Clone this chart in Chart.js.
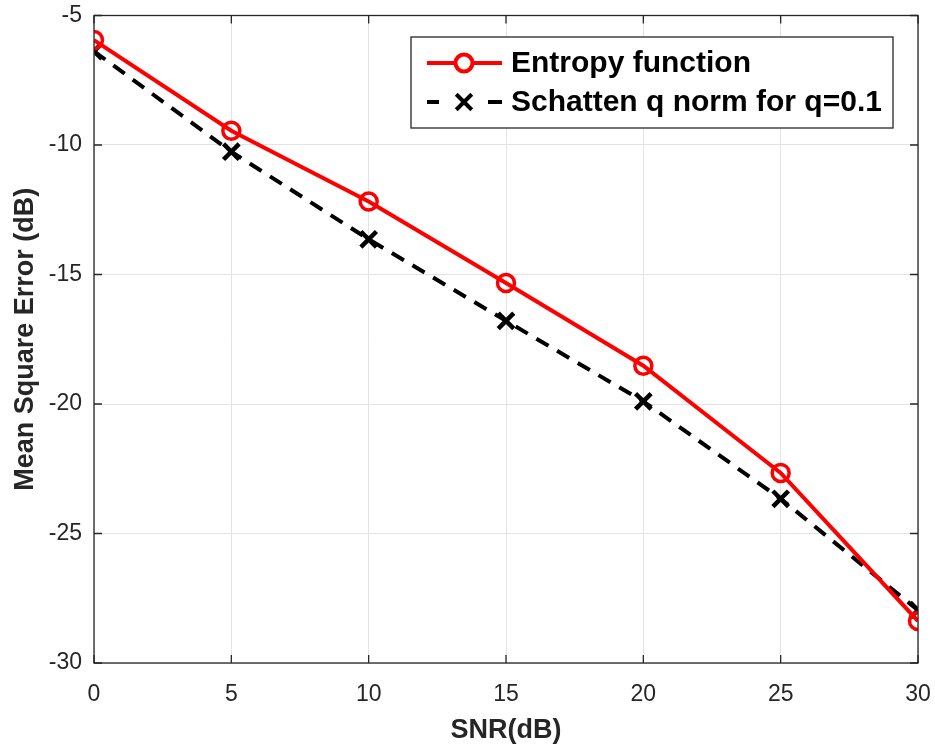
<!DOCTYPE html>
<html>
<head>
<meta charset="utf-8">
<script src="https://cdn.jsdelivr.net/npm/chart.js@4"></script>
<style>
  html, body { margin: 0; padding: 0; background: #fff; }
  #wrap { width: 935px; height: 749px; }
</style>
</head>
<body>
<div id="wrap"><canvas id="myChart" width="935" height="749"></canvas></div>
<script>
// SNR values (x axis)
const snr = [0, 5, 10, 15, 20, 25, 30];
// MSE in dB
const entropyMse = [-5.95, -9.45, -12.18, -15.33, -18.52, -22.66, -28.38];
const schattenMse = [-6.38, -10.26, -13.64, -16.79, -19.9, -23.66, -27.96];
const xTicks = [0, 5, 10, 15, 20, 25, 30];
const yTicks = [-5, -10, -15, -20, -25, -30];
const seriesLabels = ['Entropy function', 'Schatten q norm for q=0.1'];

const axisColor = '#262626';
const gridColor = '#e3e3e3';
const fontFam = '"Liberation Sans", Arial, sans-serif';

// MATLAB style box + inside tick marks
const boxPlugin = {
  id: 'box',
  afterDraw(chart) {
    const ctx = chart.ctx;
    const a = chart.chartArea;
    const xs = chart.scales.x, ys = chart.scales.y;
    ctx.save();
    ctx.strokeStyle = axisColor;
    ctx.lineWidth = 1.3;
    ctx.strokeRect(a.left, a.top, a.right - a.left, a.bottom - a.top);
    ctx.beginPath();
    xTicks.forEach(v => {
      const px = xs.getPixelForValue(v);
      ctx.moveTo(px, a.bottom); ctx.lineTo(px, a.bottom - 8);
      ctx.moveTo(px, a.top); ctx.lineTo(px, a.top + 8);
    });
    yTicks.forEach(v => {
      const py = ys.getPixelForValue(v);
      ctx.moveTo(a.left, py); ctx.lineTo(a.left + 8, py);
      ctx.moveTo(a.right, py); ctx.lineTo(a.right - 8, py);
    });
    ctx.stroke();
    ctx.restore();
  }
};

// legend drawn inside plot, top right
const legendPlugin = {
  id: 'boxLegend',
  afterDraw(chart) {
    const ctx = chart.ctx;
    const bx = 411, by = 37, bw = 482, bh = 91;
    ctx.save();
    ctx.fillStyle = '#fff';
    ctx.fillRect(bx, by, bw, bh);
    ctx.strokeStyle = axisColor;
    ctx.lineWidth = 1.3;
    ctx.strokeRect(bx, by, bw, bh);
    const rows = [63, 102];
    chart.data.datasets.forEach((ds, i) => {
      const y = rows[i];
      ctx.strokeStyle = ds.borderColor;
      ctx.lineWidth = ds.borderWidth;
      ctx.beginPath();
      if (ds.borderDash) {
        // two short dashes either side of the marker
        ctx.moveTo(427, y); ctx.lineTo(439, y);
        ctx.moveTo(488, y); ctx.lineTo(502, y);
      } else {
        ctx.moveTo(427, y); ctx.lineTo(502, y);
      }
      ctx.stroke();
      Chart.helpers.drawPoint(ctx, {
        pointStyle: ds.pointStyle,
        radius: ds.pointRadius,
        borderWidth: ds.pointBorderWidth
      }, 464, y);
      ctx.fillStyle = '#000';
      ctx.font = 'bold 30px ' + fontFam;
      ctx.textBaseline = 'middle';
      ctx.fillText(ds.label, 511, y + 1);
    });
    ctx.restore();
  }
};

const ctx = document.getElementById('myChart').getContext('2d');
const myChart = new Chart(ctx, {
  type: 'line',
  data: {
    datasets: [
      {
        label: seriesLabels[0],
        data: snr.map((x, i) => ({x: x, y: entropyMse[i]})),
        borderColor: '#ff0000',
        borderWidth: 4,
        pointStyle: 'circle',
        pointRadius: 8.5,
        pointBorderWidth: 3.5,
        pointBorderColor: '#ff0000',
        pointBackgroundColor: 'rgba(0,0,0,0)',
        tension: 0
      },
      {
        label: seriesLabels[1],
        data: snr.map((x, i) => ({x: x, y: schattenMse[i]})),
        borderColor: '#000000',
        borderWidth: 4,
        borderDash: [14, 10],
        pointStyle: 'crossRot',
        pointRadius: 11,
        pointBorderWidth: 4.5,
        pointBorderColor: '#000000',
        tension: 0
      }
    ]
  },
  options: {
    responsive: false,
    animation: false,
    layout: { padding: { left: 0, right: 17, top: 6, bottom: 0 } },
    plugins: { legend: { display: false }, tooltip: { enabled: false } },
    scales: {
      x: {
        type: 'linear',
        min: 0, max: 30,
        afterBuildTicks(scale) { scale.ticks = xTicks.map(v => ({value: v})); },
        afterFit(scale) { scale.height = 86; scale.paddingLeft = 0; scale.paddingRight = 0; },
        grid: { color: gridColor, lineWidth: 1, drawTicks: false },
        border: { display: false },
        ticks: {
          color: axisColor,
          padding: 18,
          font: { family: fontFam, size: 23 }
        },
        title: {
          display: true,
          text: 'SNR(dB)',
          color: axisColor,
          padding: { top: 0, bottom: 2 },
          font: { family: fontFam, size: 27, weight: 'bold' }
        }
      },
      y: {
        type: 'linear',
        min: -30, max: -5,
        afterBuildTicks(scale) { scale.ticks = yTicks.map(v => ({value: v})); },
        afterFit(scale) { scale.width = 94; scale.paddingTop = 0; scale.paddingBottom = 0; },
        grid: { color: gridColor, lineWidth: 1, drawTicks: false },
        border: { display: false },
        ticks: {
          color: axisColor,
          padding: 12,
          font: { family: fontFam, size: 23 }
        },
        title: {
          display: true,
          text: 'Mean Square Error (dB)',
          color: axisColor,
          padding: { top: 9, bottom: 0 },
          font: { family: fontFam, size: 27, weight: 'bold' }
        }
      }
    }
  },
  plugins: [boxPlugin, legendPlugin]
});
</script>
</body>
</html>
